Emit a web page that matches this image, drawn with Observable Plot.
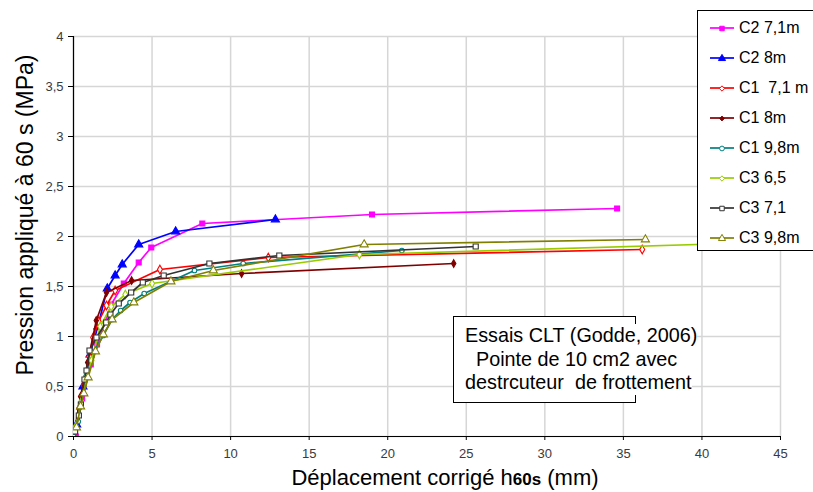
<!DOCTYPE html>
<html><head><meta charset="utf-8">
<script src="https://cdn.jsdelivr.net/npm/d3@7"></script>
<script src="https://cdn.jsdelivr.net/npm/@observablehq/plot@0.6"></script>
<style>
html,body{margin:0;padding:0;background:#fff;overflow:hidden;}
#wrap{position:relative;width:813px;height:492px;font-family:"Liberation Sans",Arial,sans-serif;color:#000;}
#wrap svg.plot{position:absolute;left:0;top:0;}
.ytitle{position:absolute;left:25px;top:215px;transform:translate(-50%,-50%) rotate(-90deg);font-size:23px;white-space:nowrap;}
.xtitle{position:absolute;left:445px;top:478px;transform:translate(-50%,-50%);font-size:22px;white-space:nowrap;}
.xtitle .sub{font-size:17px;font-weight:bold;}
.legend{position:absolute;left:697px;top:10px;width:130px;height:241px;border:1px solid #000;background:#fff;box-sizing:border-box;}
.legend .row{position:absolute;left:0;height:20px;display:flex;align-items:center;font-size:16px;white-space:pre;}
.legend svg{display:block;margin-left:12px;margin-right:5px;}
.note{position:absolute;left:453px;top:316px;width:183px;height:87px;border:1px solid #000;background:#fff;box-sizing:border-box;}
.notetext{position:absolute;left:465px;top:324px;font-size:19.8px;}
.notetext div{background:#fff;width:fit-content;line-height:23.5px;white-space:pre;}
</style></head><body><div id="wrap"></div>
<script>
// ---- data ----
const seriesNames = ["C2 7,1m", "C2 8m", "C1  7,1 m", "C1 8m", "C1 9,8m", "C3 6,5", "C3 7,1", "C3 9,8m"];

const xC2_71 = [0.15, 0.55, 1.1, 1.5, 2.4, 3.2, 4.15, 4.95, 8.2, 19.0, 34.6];
const yC2_71 = [0.0, 0.38, 0.72, 0.92, 1.32, 1.53, 1.74, 1.89, 2.13, 2.22, 2.28];

const xC2_8 = [0.2, 0.6, 1.05, 1.55, 2.15, 2.65, 3.1, 4.15, 6.5, 12.85];
const yC2_8 = [0.12, 0.5, 0.82, 1.1, 1.48, 1.61, 1.72, 1.92, 2.05, 2.17];

const xC1_71 = [0.1, 0.35, 0.65, 1.0, 1.25, 1.6, 2.1, 2.65, 5.5, 12.4, 36.2];
const yC1_71 = [0.05, 0.28, 0.51, 0.8, 0.99, 1.15, 1.31, 1.46, 1.67, 1.79, 1.87];

const xC1_8 = [0.0, 0.45, 0.9, 1.45, 2.1, 3.7, 10.7, 24.2];
const yC1_8 = [0.0, 0.4, 0.74, 1.16, 1.44, 1.56, 1.63, 1.73];

const xC1_98 = [0.0, 0.3, 0.8, 1.3, 1.9, 2.45, 3.0, 3.6, 4.5, 7.7, 10.8, 20.9];
const yC1_98 = [0.0, 0.15, 0.6, 0.85, 1.01, 1.17, 1.26, 1.34, 1.43, 1.66, 1.73, 1.86];

const xC3_65 = [0.15, 0.5, 0.85, 1.15, 1.7, 2.4, 3.3, 5.0, 18.2, 44.0];
const yC3_65 = [0.1, 0.35, 0.6, 0.76, 1.1, 1.3, 1.42, 1.53, 1.82, 1.94];

const xC3_71 = [0.1, 0.34, 0.47, 0.7, 0.83, 1.02, 1.46, 2.08, 2.35, 2.88, 3.67, 4.41, 5.74, 8.65, 13.1, 25.6];
const yC3_71 = [0.05, 0.21, 0.32, 0.57, 0.66, 0.86, 0.99, 1.14, 1.22, 1.33, 1.44, 1.54, 1.61, 1.73, 1.81, 1.9];

const xC3_98 = [0.19, 0.45, 0.66, 0.93, 1.4, 1.9, 2.46, 3.84, 6.2, 8.9, 18.5, 36.4];
const yC3_98 = [0.09, 0.3, 0.43, 0.59, 0.85, 1.02, 1.17, 1.34, 1.55, 1.66, 1.92, 1.97];

const xTicks = [0, 5, 10, 15, 20, 25, 30, 35, 40, 45];
const yTicks = [0, 0.5, 1, 1.5, 2, 2.5, 3, 3.5, 4];
const yTickLabels = ["0", "0,5", "1", "1,5", "2", "2,5", "3", "3,5", "4"];

// ---- styles ----
const seriesColors = ["#ff00ff", "#0000ff", "#ff0000", "#800000", "#008080", "#99cc00", "#333333", "#808000"];
const seriesSymbols = ["square", "triangle", "diamond", "diamond", "circle", "diamond", "square", "triangle"];
const seriesFilled = [true, true, false, true, false, false, false, false];
const seriesR = [2.8, 3.0, 2.6, 2.3, 2.3, 2.6, 2.9, 3.0];

const xs = [xC2_71, xC2_8, xC1_71, xC1_8, xC1_98, xC3_65, xC3_71, xC3_98];
const ys = [yC2_71, yC2_8, yC1_71, yC1_8, yC1_98, yC3_65, yC3_71, yC3_98];
const rows = seriesNames.flatMap((s, i) => xs[i].map((x, j) => ({s, i, x, y: ys[i][j]})));

const marks = [
  Plot.gridX(xTicks, {stroke: "#d6d6d6", strokeOpacity: 1, strokeWidth: 1.5}),
  Plot.gridY(yTicks, {stroke: "#d6d6d6", strokeOpacity: 1, strokeWidth: 1.5}),
  Plot.axisY(yTicks, {tickSize: 5, tickPadding: 5, fontSize: 13, color: "#3a3a3a", stroke: "#000",
    tickFormat: d => yTickLabels[yTicks.indexOf(d)], label: null}),
  Plot.axisX(xTicks, {tickSize: 4, tickPadding: 8, fontSize: 13, color: "#3a3a3a", stroke: "#000", label: null}),
  Plot.ruleX([0], {stroke: "#000", strokeWidth: 1.2}),
  Plot.ruleY([0], {stroke: "#000", strokeWidth: 1.2})
];
seriesNames.forEach((s, i) => {
  const d = rows.filter(r => r.i === i);
  marks.push(Plot.line(d, {x: "x", y: "y", stroke: seriesColors[i], strokeWidth: 1.7, clip: true}));
  marks.push(Plot.dot(d, {x: "x", y: "y", symbol: seriesSymbols[i], r: seriesR[i],
    stroke: seriesColors[i], fill: seriesFilled[i] ? seriesColors[i] : "#fff", strokeWidth: 1.1, clip: true}));
});

const chart = Plot.plot({
  width: 813, height: 492,
  marginLeft: 73, marginRight: 33, marginTop: 36, marginBottom: 56,
  style: {fontFamily: "'Liberation Sans', Arial, sans-serif", background: "transparent"},
  x: {domain: [0, 45], label: null},
  y: {domain: [0, 4], label: null},
  marks
});
chart.classList.add("plot");
const wrap = document.getElementById("wrap");
wrap.appendChild(chart);

// axis titles
const yt = document.createElement("div");
yt.className = "ytitle"; yt.textContent = "Pression appliqué à 60 s (MPa)";
wrap.appendChild(yt);
const xt = document.createElement("div");
xt.className = "xtitle";
xt.innerHTML = 'Déplacement corrigé h<span class="sub">60s</span> (mm)';
wrap.appendChild(xt);

// legend
const lg = document.createElement("div");
lg.className = "legend";
seriesNames.forEach((s, i) => {
  const row = document.createElement("div");
  row.className = "row";
  row.style.top = (7 + i * 30) + "px";
  const sv = d3.create("svg").attr("width", 24).attr("height", 12);
  sv.append("line").attr("x1", 0).attr("x2", 24).attr("y1", 6).attr("y2", 6)
    .attr("stroke", seriesColors[i]).attr("stroke-width", 1.7);
  const symMap = {square: d3.symbolSquare, triangle: d3.symbolTriangle, diamond: d3.symbolDiamond2, circle: d3.symbolCircle};
  const sz = {square: 20, triangle: 22, diamond: 18, circle: 18}[seriesSymbols[i]] * (i === 3 ? 0.8 : 1);
  sv.append("path").attr("d", d3.symbol(symMap[seriesSymbols[i]], sz)())
    .attr("transform", "translate(12,6.5)")
    .attr("stroke", seriesColors[i]).attr("stroke-width", 1)
    .attr("fill", seriesFilled[i] ? seriesColors[i] : "#fff");
  row.appendChild(sv.node());
  const t = document.createElement("span");
  t.textContent = s;
  row.appendChild(t);
  lg.appendChild(row);
});
wrap.appendChild(lg);

// annotation
const nb = document.createElement("div");
nb.className = "note"; wrap.appendChild(nb);
const nt = document.createElement("div");
nt.className = "notetext";
["Essais CLT (Godde, 2006)", "  Pointe de 10 cm2 avec", "destrcuteur  de frottement"].forEach(l => {
  const d = document.createElement("div"); d.textContent = l; nt.appendChild(d);
});
wrap.appendChild(nt);
</script>
</body></html>
